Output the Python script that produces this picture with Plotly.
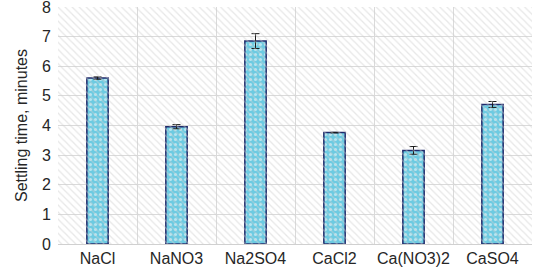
import plotly.graph_objects as go

categories = ["NaCl", "NaNO3", "Na2SO4", "CaCl2", "Ca(NO3)2", "CaSO4"]
settling_time = [5.6, 3.96, 6.85, 3.76, 3.16, 4.71]
error = [0.04, 0.07, 0.25, 0.01, 0.13, 0.1]
y_max = 8

fig = go.Figure()

# hatched plot background (overlay numeric axis)
fig.add_trace(go.Bar(
    x=[0.5], y=[y_max], width=[1], xaxis="x2", hoverinfo="skip", showlegend=False,
    marker=dict(color="rgba(0,0,0,0)", line=dict(width=0),
                pattern=dict(shape="\\", fgcolor="#CFCFCF", bgcolor="rgba(0,0,0,0)",
                             size=5, solidity=0.25)),
))

fig.add_trace(go.Bar(
    x=categories, y=settling_time, width=0.27, showlegend=False,
    error_y=dict(type="data", array=error, color="#1a1a1a", thickness=1, width=4),
    marker=dict(color="#6CCBE2", line=dict(color="#1F2A6B", width=1.5),
                pattern=dict(shape=".", fgcolor="#FFFFFF", bgcolor="#6CCBE2",
                             size=5, solidity=0.3)),
))

fig.update_layout(
    width=536, height=273,
    margin=dict(l=58, r=4, t=7, b=29),
    paper_bgcolor="white", plot_bgcolor="white",
    font=dict(family="Liberation Sans, Arial", color="#262626", size=16),
    barmode="overlay",
    xaxis=dict(type="category", tickson="boundaries", showgrid=True, gridcolor="#DADADA",
               gridwidth=1, ticks="", showline=True, linecolor="#D0D0D0", automargin=False,
               tickangle=0, tickfont=dict(size=16, color="#262626")),
    xaxis2=dict(overlaying="x", range=[0, 1], visible=False),
    yaxis=dict(range=[0, y_max], dtick=1, showgrid=True, gridcolor="#DADADA", gridwidth=1,
               zeroline=False, ticks="", automargin=False, ticklabelstandoff=6,
               ticklabeloverflow="allow",
               tickfont=dict(size=16, color="#262626"),
               title=dict(text="Settling time, minutes", font=dict(size=16, color="#262626"),
                          standoff=10)),
)

fig.write_html("out.html", config={"displayModeBar": False},
               post_script="document.body.style.margin='0';")
